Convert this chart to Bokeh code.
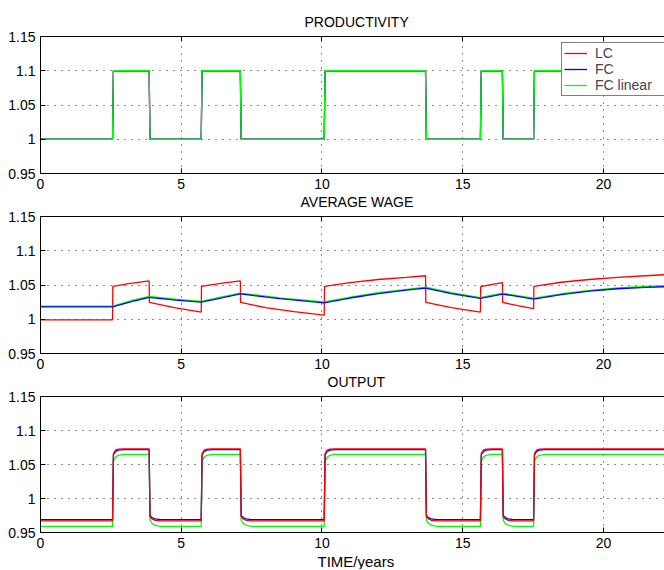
from bokeh.plotting import figure
from bokeh.layouts import column
from bokeh.models import Range1d, LinearAxis, FixedTicker, Legend, LegendItem, Title
from bokeh.embed import file_html
from bokeh.resources import INLINE

# ---------------- data ----------------
T_END = 22.17
switch_times = [2.56, 3.86, 5.71, 7.10, 10.08, 13.68, 15.63, 16.41, 17.52]
prod_levels = [1.0, 1.1, 1.0, 1.1, 1.0, 1.1, 1.0, 1.1, 1.0, 1.1]

# average wage
wage_lc_t = [0, 2.56, 2.57, 3.2, 3.86, 3.87, 4.8, 5.71, 5.72, 6.4, 7.10, 7.11, 8.0, 9.0,
             10.08, 10.09, 11.0, 12.0, 13.0, 13.68, 13.69, 14.6, 15.63, 15.64, 16.0, 16.41,
             16.42, 17.0, 17.52, 17.53, 18.5, 19.5, 20.5, 21.5, 22.17]
wage_lc = [0.999, 0.999, 1.048, 1.0525, 1.056, 1.0245, 1.0165, 1.0105, 1.048, 1.0525, 1.056,
           1.0245, 1.017, 1.011, 1.006, 1.048, 1.0535, 1.058, 1.061, 1.0635, 1.0245, 1.017,
           1.0105, 1.0475, 1.0505, 1.0535, 1.0245, 1.0195, 1.0155, 1.048, 1.054, 1.058,
           1.061, 1.0635, 1.065]
wage_fc_t = [0, 2.56, 3.2, 3.86, 4.8, 5.71, 6.4, 7.10, 8.5, 10.08, 11.0, 12.0, 13.0, 13.68,
             14.6, 15.63, 16.0, 16.41, 17.0, 17.52, 18.5, 19.5, 20.5, 21.5, 22.17]
wage_fc = [1.018, 1.018, 1.0255, 1.032, 1.028, 1.025, 1.031, 1.037, 1.030, 1.024, 1.031,
           1.0375, 1.0425, 1.0455, 1.0375, 1.0305, 1.0335, 1.0368, 1.033, 1.0295, 1.036,
           1.041, 1.0445, 1.0465, 1.0475]
wage_fcl = [1.019, 1.019, 1.027, 1.0332, 1.0292, 1.0262, 1.0322, 1.0382, 1.0312, 1.0252,
            1.0322, 1.0387, 1.0437, 1.0467, 1.0387, 1.0317, 1.0347, 1.038, 1.0342, 1.0307,
            1.0372, 1.0422, 1.0457, 1.0478, 1.049]

# output: transition profiles after each switch (time after switch, value)
out_dt = [0.0, 0.03, 0.1, 0.2, 0.4]
out_lc_up = [0.967, 1.066, 1.071, 1.0725, 1.073]
out_fc_up = [0.969, 1.064, 1.069, 1.0712, 1.072]
out_fcl_up = [0.959, 1.055, 1.0605, 1.0635, 1.065]
out_lc_down = [1.073, 0.973, 0.970, 0.968, 0.967]
out_fc_down = [1.072, 0.975, 0.972, 0.970, 0.969]
out_fcl_down = [1.065, 0.968, 0.9635, 0.961, 0.959]

x_ticks = [0, 5, 10, 15, 20]
y_ticks = [0.95, 1.0, 1.05, 1.1, 1.15]
y_tick_labels = {0.95: "0.95", 1.0: "1", 1.05: "1.05", 1.1: "1.1", 1.15: "1.15"}

RED, BLUE, GREEN = "#ff0000", "#0000ff", "#00ff00"
FONT = "Liberation Sans"
LW = 1.3


def build_prod():
    t, v = [0.0], [prod_levels[0]]
    for i, s in enumerate(switch_times):
        t += [s, s + 0.03]
        v += [prod_levels[i], prod_levels[i + 1]]
    t.append(T_END)
    v.append(prod_levels[-1])
    return t, v


def build_output(up, down):
    t, v = [0.0], [up[0]]
    for i, s in enumerate(switch_times):
        prof = up if prod_levels[i + 1] > prod_levels[i] else down
        for dt, val in zip(out_dt, prof):
            t.append(s + dt)
            v.append(val)
    t.append(T_END)
    v.append(up[-1])
    return t, v


def style_axis(ax):
    ax.major_tick_in = 5
    ax.major_tick_out = 0
    ax.minor_tick_in = 0
    ax.minor_tick_out = 0
    ax.axis_line_color = "black"
    ax.axis_line_width = 1
    ax.major_tick_line_color = "black"
    ax.major_label_text_font = FONT
    ax.major_label_text_color = "black"
    ax.axis_label_standoff = 0


def make_fig(top, fh, bottom, title, title_offset):
    p = figure(frame_width=624, frame_height=fh, min_border_left=40, min_border_right=0,
               min_border_top=top, min_border_bottom=bottom, output_backend="svg",
               toolbar_location=None, title=None,
               x_range=Range1d(0, T_END), y_range=Range1d(0.95, 1.15),
               x_axis_location=None, y_axis_location=None)
    p.outline_line_color = None
    p.background_fill_color = "white"
    p.border_fill_color = "white"

    bottom_ax = LinearAxis(ticker=FixedTicker(ticks=x_ticks))
    style_axis(bottom_ax)
    bottom_ax.major_label_text_font_size = "14px"
    bottom_ax.major_label_standoff = 5
    p.add_layout(bottom_ax, "below")

    left_ax = LinearAxis(ticker=FixedTicker(ticks=y_ticks))
    style_axis(left_ax)
    left_ax.major_label_overrides = y_tick_labels
    left_ax.major_label_text_font_size = "14px"
    left_ax.major_label_standoff = 5
    p.add_layout(left_ax, "left")

    # top border with inward ticks (no labels)
    top_ax = LinearAxis(ticker=FixedTicker(ticks=x_ticks))
    style_axis(top_ax)
    top_ax.major_label_text_color = None
    top_ax.major_label_standoff = 0
    p.add_layout(top_ax, "above")

    # invisible spacer between the frame and the title
    spacer = LinearAxis(ticker=FixedTicker(ticks=x_ticks), major_tick_out=7, major_tick_in=0,
                        minor_tick_out=0, minor_tick_in=0, axis_line_color=None,
                        major_tick_line_color=None, minor_tick_line_color=None,
                        major_label_text_color=None, major_label_standoff=0,
                        axis_label_standoff=0)
    p.add_layout(spacer, "above")

    p.xgrid.ticker = FixedTicker(ticks=x_ticks)
    p.ygrid.ticker = FixedTicker(ticks=y_ticks)
    for g in (p.xgrid, p.ygrid):
        g.grid_line_color = "black"
        g.grid_line_dash = "1 6"
        g.grid_line_alpha = 0.9
        g.grid_line_width = 1
    p.add_layout(Title(text=title, align="left", offset=title_offset, text_font=FONT,
                       text_font_size="14px", text_font_style="normal", standoff=0,
                       text_line_height=1.0, text_color="black"), "above")
    return p


# panel 1
p1 = make_fig(36, 137, 0, "PRODUCTIVITY", 264)
pt, pv = build_prod()
r1 = p1.line(pt, pv, line_color=RED, line_width=LW)
r2 = p1.line(pt, pv, line_color=BLUE, line_width=LW)
r3 = p1.line(pt, pv, line_color=GREEN, line_width=LW)
legend = Legend(items=[LegendItem(label="LC", renderers=[r1]),
                       LegendItem(label="FC", renderers=[r2]),
                       LegendItem(label="FC linear", renderers=[r3])],
                location=(521, 77), label_text_font=FONT, label_text_font_size="14px",
                label_text_line_height=1.0,
                glyph_width=23, glyph_height=16, label_height=16, label_width=72,
                label_standoff=8, padding=2, spacing=0, margin=0,
                border_line_color="black", border_line_width=1,
                background_fill_color="white", background_fill_alpha=1)
p1.add_layout(legend)

# panel 2
p2 = make_fig(0, 137, 0, "AVERAGE WAGE", 260)
p2.line(wage_lc_t, wage_lc, line_color=RED, line_width=LW)
p2.line(wage_fc_t, wage_fcl, line_color=GREEN, line_width=LW)
p2.line(wage_fc_t, wage_fc, line_color=BLUE, line_width=LW)

# panel 3
p3 = make_fig(0, 136, 0, "OUTPUT", 287)
t, v = build_output(out_fcl_up, out_fcl_down)
p3.line(t, v, line_color=GREEN, line_width=LW)
t, v = build_output(out_fc_up, out_fc_down)
p3.line(t, v, line_color=BLUE, line_width=LW)
t, v = build_output(out_lc_up, out_lc_down)
p3.line(t, v, line_color=RED, line_width=LW)
p3.add_layout(Title(text="TIME/years", align="left", offset=277, text_font=FONT,
                    text_font_size="15px", text_font_style="normal", standoff=0,
                    text_line_height=0.8, text_color="black"), "below")

layout = column(p1, p2, p3, spacing=0)
open("out.html", "w").write(file_html(layout, INLINE))
